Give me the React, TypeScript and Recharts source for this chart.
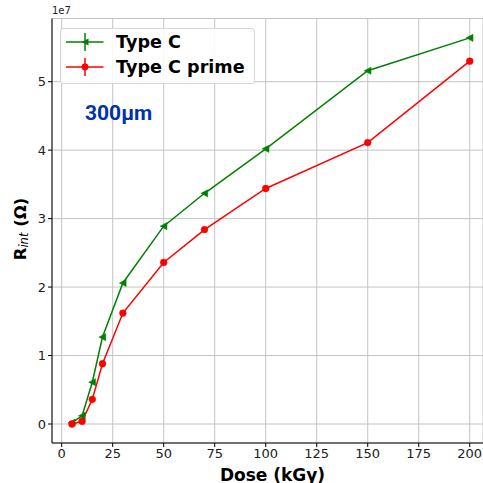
import React from 'react';
import { LineChart, Line, XAxis, YAxis, CartesianGrid } from 'recharts';

const doses = [5, 10, 15, 20, 30, 50, 70, 100, 150, 200];
const typeC = [0.02e7, 0.12e7, 0.61e7, 1.27e7, 2.06e7, 2.89e7, 3.37e7, 4.02e7, 5.16e7, 5.64e7];
const typeCPrime = [0.0, 0.04e7, 0.36e7, 0.88e7, 1.62e7, 2.36e7, 2.84e7, 3.44e7, 4.11e7, 5.3e7];
const xTicks = [0, 25, 50, 75, 100, 125, 150, 175, 200];
const yTicks = [0, 1e7, 2e7, 3e7, 4e7, 5e7];
const seriesNames = ['Type C', 'Type C prime'];

const data = doses.map((d, i) => ({ dose: d, typeC: typeC[i], typeCPrime: typeCPrime[i] }));

const GREEN = '#008000';
const RED = '#ff0000';
const FONT = 'DejaVu Sans, sans-serif';

const TriLeft = (props: any) => {
  const { cx, cy, index } = props;
  if (cx == null || cy == null) return <g key={index} />;
  const r = 3.6;
  return (
    <polygon
      key={index}
      points={`${cx - r},${cy} ${cx + r * 0.9},${cy - r} ${cx + r * 0.9},${cy + r}`}
      fill={GREEN}
      stroke={GREEN}
      strokeWidth={0.5}
    />
  );
};

const Circ = (props: any) => {
  const { cx, cy, index } = props;
  if (cx == null || cy == null) return <g key={index} />;
  return <circle key={index} cx={cx} cy={cy} r={3.4} fill={RED} stroke={RED} strokeWidth={0.5} />;
};

const LegendBox = () => {
  const rows = [
    { name: seriesNames[0], color: GREEN, tri: true },
    { name: seriesNames[1], color: RED, tri: false },
  ];
  return (
    <div
      style={{
        position: 'absolute',
        left: 60,
        top: 28,
        background: 'rgba(255,255,255,0.85)',
        border: '1px solid #d6d6d6',
        borderRadius: 3,
        width: 195,
        height: 56,
        boxSizing: 'border-box',
        paddingTop: 0,
      }}
    >
      {rows.map((r) => (
        <div key={r.name} style={{ display: 'flex', alignItems: 'center', height: 25 }}>
          <svg width={51} height={24} style={{ marginLeft: 4, flex: 'none' }}>
            <line x1={1} y1={12} x2={38.5} y2={12} stroke={r.color} strokeWidth={1.5} />
            <line x1={20} y1={3} x2={20} y2={21} stroke={r.color} strokeWidth={1.5} />
            {r.tri ? (
              <polygon points="16.5,12 23.5,8.5 23.5,15.5" fill={r.color} />
            ) : (
              <circle cx={20} cy={12} r={3.4} fill={r.color} />
            )}
          </svg>
          <span
            style={{
              fontFamily: FONT,
              fontWeight: 'bold',
              fontSize: 17.6,
              color: '#000',
              whiteSpace: 'nowrap',
            }}
          >
            {r.name}
          </span>
        </div>
      ))}
    </div>
  );
};

const YLabel = () => {
  const cx = 20;
  const cy = 229;
  return (
    <text
      x={cx}
      y={cy}
      transform={`rotate(-90, ${cx}, ${cy})`}
      textAnchor="middle"
      dominantBaseline="central"
      fontFamily={FONT}
      fontSize={16.5}
      fontWeight="bold"
      fill="#000"
    >
      <tspan>R</tspan>
      <tspan fontSize={11.5} fontWeight="normal" fontStyle="italic" dy={4}>int</tspan>
      <tspan dy={-4}> (Ω)</tspan>
    </text>
  );
};

export default function App() {
  return (
    <div style={{ position: 'absolute', left: 0, top: 0, width: 483, height: 483, background: '#fff' }}>
      <LineChart
        width={483}
        height={483}
        data={data}
        margin={{ top: 18.5, right: 0, bottom: 0, left: 0 }}
      >
        <CartesianGrid stroke="#c4c4c4" strokeWidth={1} horizontal vertical />
        <XAxis
          type="number"
          dataKey="dose"
          domain={[-4.75, 206.5]}
          ticks={xTicks}
          allowDataOverflow
          axisLine={{ stroke: '#000', strokeWidth: 1 }}
          tickLine={{ stroke: '#000' }}
          tickSize={4}
          tick={{ fontFamily: FONT, fontSize: 13, fill: '#222' }}
          height={40}
          label={{
            value: 'Dose (kGy)',
            position: 'insideBottom',
            offset: 2,
            style: { fontFamily: FONT, fontSize: 17, fontWeight: 'bold', fill: '#000' },
            dx: 5,
          }}
        />
        <XAxis
          xAxisId="top"
          orientation="top"
          type="number"
          domain={[-4.75, 206.5]}
          tick={false}
          tickLine={false}
          axisLine={{ stroke: '#000', strokeWidth: 1 }}
          height={0}
        />
        <YAxis
          type="number"
          domain={[-0.2775e7, 5.923e7]}
          ticks={yTicks}
          allowDataOverflow
          axisLine={{ stroke: '#000', strokeWidth: 1 }}
          tickLine={{ stroke: '#000' }}
          tickSize={4}
          tickFormatter={(v: number) => String(Math.round(v / 1e7))}
          tick={{ fontFamily: FONT, fontSize: 13, fill: '#222' }}
          width={52}
          label={<YLabel />}
        />
        <Line
          name={seriesNames[0]}
          dataKey="typeC"
          stroke={GREEN}
          strokeWidth={1.5}
          dot={<TriLeft />}
          activeDot={false}
          isAnimationActive={false}
        />
        <Line
          name={seriesNames[1]}
          dataKey="typeCPrime"
          stroke={RED}
          strokeWidth={1.5}
          dot={<Circ />}
          activeDot={false}
          isAnimationActive={false}
        />
      </LineChart>
      <LegendBox />
      <div
        style={{
          position: 'absolute',
          left: 52,
          top: 5,
          fontFamily: FONT,
          fontSize: 10,
          color: '#222',
        }}
      >
        1e7
      </div>
      <div
        style={{
          position: 'absolute',
          left: 85,
          top: 101,
          fontFamily: 'Roboto, sans-serif',
          fontWeight: 'bold',
          fontSize: 21,
          color: '#0033aa',
        }}
      >
        300μm
      </div>
    </div>
  );
}
